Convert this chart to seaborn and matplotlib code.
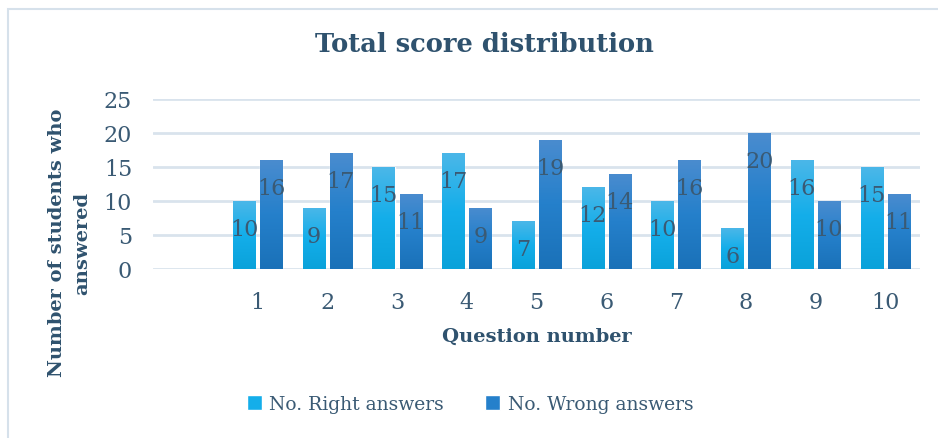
import numpy as np
import pandas as pd
import matplotlib
matplotlib.use("Agg")
import matplotlib.pyplot as plt
import seaborn as sns
from matplotlib.patches import Patch, Rectangle
from matplotlib.colors import LinearSegmentedColormap

questions = ["1", "2", "3", "4", "5", "6", "7", "8", "9", "10"]
right_answers = [10, 9, 15, 17, 7, 12, 10, 6, 16, 15]
wrong_answers = [16, 17, 11, 9, 19, 14, 16, 20, 10, 11]
series_names = ["No. Right answers", "No. Wrong answers"]

df = pd.DataFrame({
    "Question": questions * 2,
    "Count": right_answers + wrong_answers,
    "Series": [series_names[0]] * len(questions) + [series_names[1]] * len(questions),
})

sns.set_theme(style="white")
plt.rcParams['font.family'] = ['DejaVu Serif']

TXT = "#3A5A74"
TITLE = "#2F526E"
GRID = "#D9E3ED"
light_stops = ["#0AA2DA", "#14AEEA", "#4BB7E8"]
dark_stops = ["#1A71B8", "#2580CB", "#4A8CCF"]

fig = plt.figure(figsize=(9.38, 4.39), dpi=100)
W, H = 938, 439
ax = fig.add_axes([153 / W, 1 - 270 / H, (920 - 153) / W, 170 / H])

sns.barplot(data=df, x="Question", y="Count", hue="Series",
            order=[" "] + questions, hue_order=series_names,
            palette=[light_stops[1], dark_stops[1]],
            width=0.776, gap=0.185, ax=ax, legend=False, errorbar=None)

ax.set_ylim(0, 25)
ax.set_yticks([0, 5, 10, 15, 20, 25])
ax.set_xlim(-0.5, 10.5)
for s in ax.spines.values():
    s.set_visible(False)
ax.grid(axis="y", color=GRID, linewidth=2)
ax.set_axisbelow(True)
ax.tick_params(axis="both", length=0, labelsize=16, labelcolor=TXT)
ax.tick_params(axis="y", pad=15)
ax.tick_params(axis="x", pad=16)
ax.set_xlabel("")
ax.set_ylabel("")

# gradients on bars
cmaps = [LinearSegmentedColormap.from_list("l", light_stops),
         LinearSegmentedColormap.from_list("d", dark_stops)]
grad = np.linspace(0, 1, 256).reshape(-1, 1)
for ci, cont in enumerate(ax.containers):
    for p in cont.patches:
        h = p.get_height()
        if not np.isfinite(h) or h <= 0:
            continue
        x0 = p.get_x()
        w = p.get_width()
        im = ax.imshow(grad, cmap=cmaps[ci], origin="lower",
                       extent=[x0, x0 + w, 0, h], aspect="auto", zorder=p.get_zorder() + 0.1)
        im.set_clip_path(p)
    texts = ax.bar_label(cont, label_type="edge", fmt="%g", padding=-20,
                         fontsize=16, color=TXT, zorder=10)
    for t in texts:
        t.set_va("center")
ax.set_xlim(-0.5, 10.5)
ax.set_ylim(0, 25)

fig.text(484 / W, 1 - 45 / H, "Total score distribution", ha="center", va="center",
         fontsize=18.5, fontweight="bold", color=TITLE)
fig.text(537 / W, 1 - 337 / H, "Question number", ha="center", va="center",
         fontsize=14, fontweight="bold", color=TITLE)
fig.text(70 / W, 1 - 243 / H, "Number of students who\nanswered", ha="center", va="center",
         rotation=90, multialignment="center", fontsize=14, fontweight="bold", color=TITLE,
         linespacing=1.5)

handles = [Patch(facecolor=light_stops[1]), Patch(facecolor=dark_stops[1])]
fig.legend(handles, series_names, loc="center", bbox_to_anchor=(470 / W, 1 - 405 / H),
           ncol=2, frameon=False, fontsize=13.5, labelcolor=TXT, handlelength=0.8,
           handleheight=0.8, handletextpad=0.4, columnspacing=2.2)

fig.patches.append(Rectangle((8 / W, -0.1), 1.2, (1 - 10 / H) + 0.1, transform=fig.transFigure,
                             fill=False, edgecolor="#D6E1EB", linewidth=1.5))

fig.savefig("out.png", dpi=100)
